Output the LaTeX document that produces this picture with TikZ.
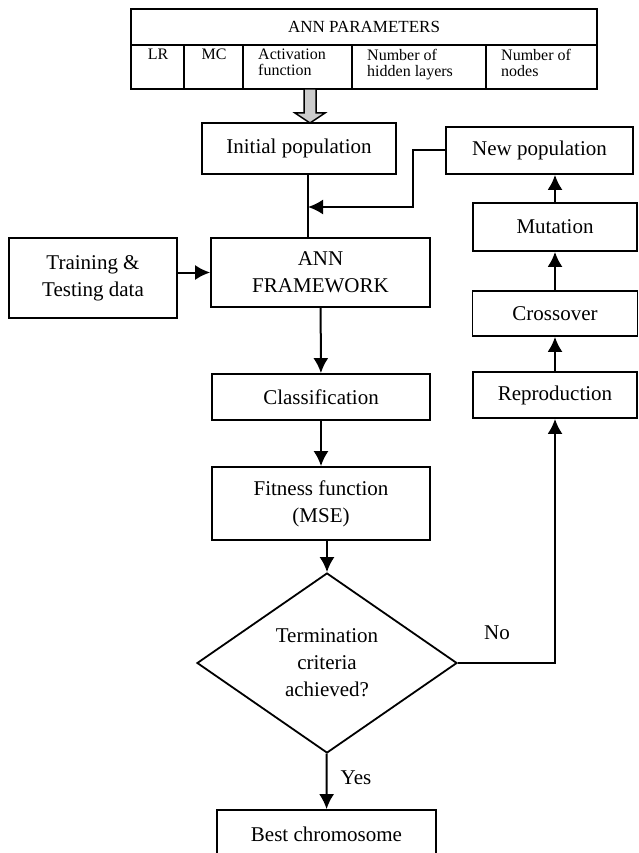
\documentclass[tikz,border=0pt]{standalone}
\usepackage{fontspec}
\setmainfont{Liberation Serif}
\usetikzlibrary{shapes.geometric, arrows.meta, positioning, calc}
\tikzstyle{arrow} = [line width=2pt,-{Latex[length=15pt,width=15pt]}]
\tikzstyle{line} = [line width=2pt]
\tikzstyle{block} = [rectangle, draw=black, line width=1.8pt, align=center, inner sep=0pt]
\tikzstyle{decision} = [diamond, draw=black, line width=1.8pt, align=center, inner sep=0pt, minimum width=260pt, minimum height=180pt]
\tikzstyle{cell} = [inner sep=0pt, font=\fontsize{16}{16}\selectfont]

\begin{document}
\begin{tikzpicture}[x=1pt, y=-1pt, font=\fontsize{21}{27}\selectfont]
\useasboundingbox (0,0) rectangle (638,853);

% Parameter table
\draw [line] (131,9) rectangle (597,89);
\draw [line] (131,45) -- (597,45);
\foreach \x in {184,243,352,486}
  \draw [line] (\x,45) -- (\x,89);
\node (hdr) [cell, font=\fontsize{17}{17}\selectfont] at (364,27) {ANN PARAMETERS};
\node (lr) [cell, anchor=north] at (158,49) {LR};
\node (mc) [cell, anchor=north] at (214,49) {MC};
\node (act) [cell, anchor=north west, align=left] at (258,49) {Activation\\function};
\node (hid) [cell, anchor=north west, align=left] at (367,49) {Number of\\hidden layers};
\node (nod) [cell, anchor=north west, align=left] at (501,49) {Number of\\nodes};

% Input arrow
\draw [line width=1.5pt, fill=gray!40] (304,89) -- (304,113) -- (295,113) -- (310,123) -- (325,113) -- (316,113) -- (316,89) -- cycle;

% Main flow
\node (init) [block, minimum width=194pt, minimum height=51pt] at (299,148.5) {Initial population};
\node (data) [block, minimum width=168pt, minimum height=80pt] at (93,278) {Training \&\\Testing data};
\node (ann) [block, minimum width=219pt, minimum height=69pt] at (320.5,272.5) {ANN\\FRAMEWORK};
\node (classif) [block, minimum width=218pt, minimum height=46pt] at (321,397) {Classification};
\node (fitness) [block, minimum width=218pt, minimum height=73pt] at (321,503.5) {Fitness function\\(MSE)};
\node (term) [decision] at (327,663) {Termination\\criteria\\achieved?};
\node (best) [block, minimum width=219pt, minimum height=48pt] at (326.5,834) {Best chromosome};

% GA loop
\node (newpop) [block, minimum width=187pt, minimum height=47pt] at (539.5,150.5) {New population};
\node (mutation) [block, minimum width=164pt, minimum height=48pt] at (555,227) {Mutation};
\node (crossover) [block, minimum width=165pt, minimum height=45pt] at (555,313.5) {Crossover};
\node (reprod) [block, minimum width=164pt, minimum height=46pt] at (555,395) {Reproduction};

% Labels
\node (no) at (497,633) {No};
\node (yes) at (356,778) {Yes};

% Connections
\coordinate (merge) at (308,207);
\draw [line] (init.south -| merge) -- (ann.north -| merge);
\draw [arrow] (newpop.west) -- ++(-32,0) |- (merge);
\draw [arrow] (data.east |- ann) -- (ann.west);
\draw [arrow] (ann) -- (classif);
\draw [arrow] (classif) -- (fitness);
\draw [arrow] (fitness.south -| term.north) -- (term.north);
\draw [arrow] (term.east) -| (reprod.south);
\draw [arrow] (term) -- (best);
\draw [arrow] (reprod) -- (crossover);
\draw [arrow] (crossover) -- (mutation);
\draw [arrow] (mutation.north) -- (mutation.north |- newpop.south);

\end{tikzpicture}
\end{document}
